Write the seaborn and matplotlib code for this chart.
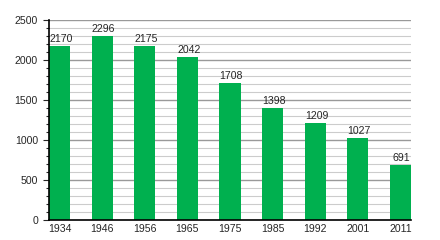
import matplotlib
matplotlib.use("Agg")
import matplotlib.pyplot as plt
import seaborn as sns
import pandas as pd
from matplotlib.ticker import MultipleLocator

years = ["1934", "1946", "1956", "1965", "1975", "1985", "1992", "2001", "2011"]
population = [2170, 2296, 2175, 2042, 1708, 1398, 1209, 1027, 691]

df = pd.DataFrame({"year": years, "pop": population})

sns.set_style("white")
plt.rcParams['font.family'] = ['Liberation Sans', 'DejaVu Sans']

fig = plt.figure(figsize=(4.4, 2.4), dpi=100)
ax = fig.add_axes([49/440, 20/240, (411-49)/440, 200/240])

sns.barplot(data=df, x="year", y="pop", color="#00b04f", width=0.5,
            saturation=1, ax=ax, zorder=3, linewidth=0, edgecolor="none")

ax.set_xlim(-0.25, 8.25)
ax.set_ylim(0, 2500)
ax.yaxis.set_major_locator(MultipleLocator(500))
ax.yaxis.set_minor_locator(MultipleLocator(100))
ax.grid(which="major", axis="y", color="#999999", linewidth=1.0, zorder=1)
ax.grid(which="minor", axis="y", color="#cccccc", linewidth=0.8, zorder=1)
ax.set_axisbelow(True)
ax.set_xlabel("")
ax.set_ylabel("")
for s in ["top", "right"]:
    ax.spines[s].set_visible(False)
for s in ["left", "bottom"]:
    ax.spines[s].set_color("black")
    ax.spines[s].set_linewidth(1.2)
    ax.spines[s].set_zorder(5)
ax.tick_params(axis="y", which="major", length=4, width=0.8, labelsize=7.6, left=True, pad=4)
ax.tick_params(axis="y", which="minor", length=2, width=0.8, left=True)
ax.tick_params(axis="x", length=0, labelsize=7.6, pad=3)

for i, v in enumerate(population):
    ax.text(i + 0.03, v + 25, str(v), ha="center", va="bottom", fontsize=7.6, zorder=4)

fig.savefig("out.png", dpi=100)
